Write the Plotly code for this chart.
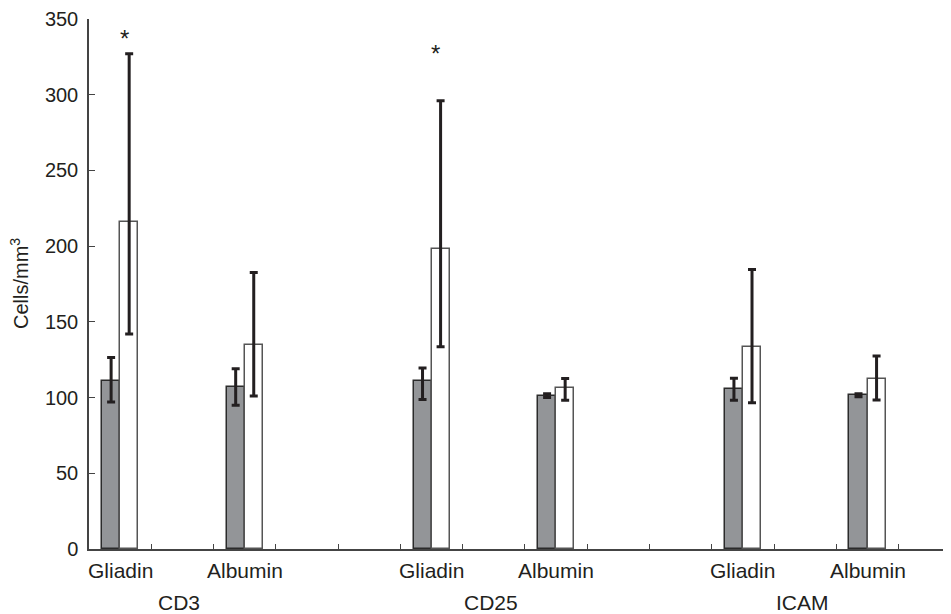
import plotly.graph_objects as go

# ---- data ----
markers = ["CD3", "CD25", "ICAM"]
antigens = ["Gliadin", "Albumin"]

# grey bars (first series) and white bars (second series), order:
# CD3-Gliadin, CD3-Albumin, CD25-Gliadin, CD25-Albumin, ICAM-Gliadin, ICAM-Albumin
grey_vals = [111, 107, 111, 101.3, 105.5, 101.5]
grey_err_plus = [15.5, 12, 8.5, 1.2, 7.3, 1.0]
grey_err_minus = [14, 12, 12.3, 1.2, 7.2, 1.0]

white_vals = [216, 135, 198, 106, 133.5, 112]
white_err_plus = [111, 47.6, 98, 6.6, 51, 15.4]
white_err_minus = [74, 34, 64.5, 7.7, 37, 13.6]

# significance markers: (index of pair, y value of the asterisk)
sig_pairs = [0, 2]
sig_y = [336, 326]

y_ticks = [0, 50, 100, 150, 200, 250, 300, 350]

# ---- layout helpers (positions computed in code) ----
FONT = "Liberation Sans, Arial, Helvetica, sans-serif"
TXT = "#231f20"
bw = 0.29
centers = []
for gi, _ in enumerate(markers):
    for ai, _ in enumerate(antigens):
        centers.append(gi * 5 + ai * 2 + 0.5)
group_centers = [gi * 5 + 1.5 for gi in range(len(markers))]

fig = go.Figure()
fig.add_trace(go.Bar(
    x=[c - bw / 2 for c in centers], y=grey_vals, width=bw,
    marker=dict(color="#939598", line=dict(color="#2b2b2b", width=1.5)),
    error_y=dict(type="data", array=grey_err_plus, arrayminus=grey_err_minus,
                 symmetric=False, color=TXT, thickness=3, width=4),
    showlegend=False, hoverinfo="y",
))
fig.add_trace(go.Bar(
    x=[c + bw / 2 for c in centers], y=white_vals, width=bw,
    marker=dict(color="#ffffff", line=dict(color="#555555", width=1.5)),
    error_y=dict(type="data", array=white_err_plus, arrayminus=white_err_minus,
                 symmetric=False, color=TXT, thickness=3, width=4),
    showlegend=False, hoverinfo="y",
))

annotations = []
# antigen labels under each pair
for i, c in enumerate(centers):
    annotations.append(dict(
        x=c, y=0, xref="x", yref="y", text=antigens[i % 2], showarrow=False,
        xanchor="center", yanchor="top", yshift=-8,
        font=dict(family=FONT, size=21, color=TXT)))
# marker (group) labels
for gi, gc in enumerate(group_centers):
    annotations.append(dict(
        x=gc, y=0, xref="x", yref="y", text=markers[gi], showarrow=False,
        xanchor="center", yanchor="top", yshift=-40, xshift=-3,
        font=dict(family=FONT, size=21, color=TXT)))
# asterisks
for p, yv in zip(sig_pairs, sig_y):
    annotations.append(dict(
        x=centers[p] + bw / 2, y=yv, xref="x", yref="y", text="*",
        showarrow=False, xanchor="center", yanchor="middle", xshift=-5, yshift=2,
        font=dict(family=FONT, size=24, color=TXT)))
# y-axis title
annotations.append(dict(
    x=0, y=0.5, xref="paper", yref="paper", text="Cells/mm<sup>3</sup>",
    showarrow=False, textangle=-90, xanchor="center", yanchor="middle",
    xshift=-70, font=dict(family=FONT, size=20, color=TXT)))

fig.update_layout(
    width=943, height=606, autosize=False,
    margin=dict(l=81, r=0, t=11, b=65),
    paper_bgcolor="white", plot_bgcolor="white",
    barmode="overlay", bargap=0,
    font=dict(family=FONT, size=20, color=TXT),
    annotations=annotations,
    xaxis=dict(range=[0, 13.84], tickmode="array", tickvals=list(range(0, 14)),
               showticklabels=False, ticks="inside", ticklen=5, tickwidth=1,
               tickcolor="#444444", showline=True, linecolor="#444444",
               linewidth=1.5, showgrid=False, zeroline=False, fixedrange=True),
    yaxis=dict(range=[0, 350], tickmode="array", tickvals=y_ticks,
               ticks="inside", ticklen=6, tickwidth=1, tickcolor="#444444",
               showline=True, linecolor="#444444", linewidth=1.5,
               showgrid=False, zeroline=False, ticklabelstandoff=5,
               tickfont=dict(family=FONT, size=20, color=TXT), fixedrange=True),
)

fig.write_html("out.html")
